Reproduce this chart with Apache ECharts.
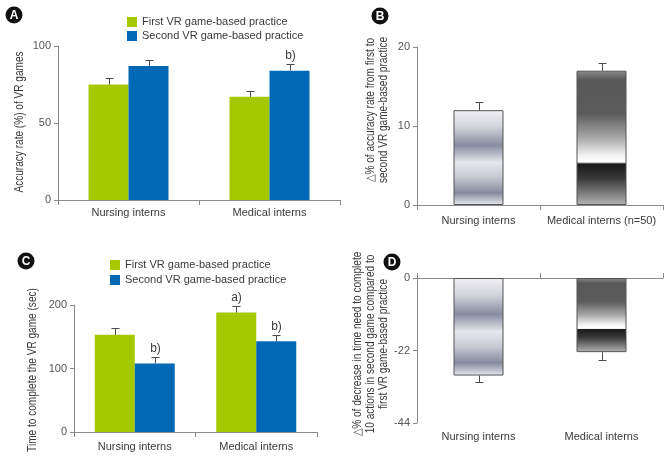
<!DOCTYPE html>
<html>
<head>
<meta charset="utf-8">
<script src="https://cdn.jsdelivr.net/npm/echarts@6/dist/echarts.min.js"></script>
<style>
html,body{margin:0;padding:0;background:#fff;}
#chart{width:672px;height:461px;}
</style>
</head>
<body>
<div id="chart"></div>
<script>
// ---- data ----
const seriesNames = ['First VR game-based practice', 'Second VR game-based practice'];

const categoriesA = ['Nursing interns', 'Medical interns'];
const accuracyFirst = [75, 67];
const accuracyFirstErr = [4, 4];
const accuracySecond = [87, 84];
const accuracySecondErr = [4, 4];
const accuracyFirstNote = ['', ''];
const accuracySecondNote = ['', 'b)'];
const ticksA = [0, 50, 100];

const categoriesB = ['Nursing interns', 'Medical interns (n=50)'];
const accuracyDelta = [12, 17];
const accuracyDeltaErr = [1, 1];
const ticksB = [0, 10, 20];

const categoriesC = ['Nursing interns', 'Medical interns'];
const timeFirst = [153, 188];
const timeFirstErr = [10, 10];
const timeSecond = [108, 143];
const timeSecondErr = [10, 10];
const timeFirstNote = ['', 'a)'];
const timeSecondNote = ['b)', 'b)'];
const ticksC = [0, 100, 200];

const categoriesD = ['Nursing interns', 'Medical interns'];
const timeDelta = [-29.6, -22.5];
const timeDeltaErr = [-1.9, -2.3];
const ticksD = [-44, -22, 0];

// ---- styles ----
const FONT = "'Liberation Sans Narrow', 'Liberation Sans', sans-serif";
const FS = 11;
const GREEN = '#a6c800';
const BLUE = '#0068b4';
const AXIS = '#8a8a8a';
const TXT = '#3a3a3a';
const ERR = '#4a4a4a';

const gradNursing = new echarts.graphic.LinearGradient(0, 0, 0, 1, [
  {offset: 0, color: '#f0f0f3'},
  {offset: 0.17, color: '#d4d6dd'},
  {offset: 0.37, color: '#868ba0'},
  {offset: 0.55, color: '#e6e7ec'},
  {offset: 0.70, color: '#c9cbd4'},
  {offset: 0.87, color: '#858a9f'},
  {offset: 1, color: '#e8e9ee'}
]);
const gradMedical = new echarts.graphic.LinearGradient(0, 0, 0, 1, [
  {offset: 0, color: '#8a8a8a'},
  {offset: 0.07, color: '#585858'},
  {offset: 0.32, color: '#5c5c5c'},
  {offset: 0.50, color: '#a8a8a8'},
  {offset: 0.63, color: '#f2f2f2'},
  {offset: 0.68, color: '#ffffff'},
  {offset: 0.695, color: '#1a1a1a'},
  {offset: 0.80, color: '#383838'},
  {offset: 1, color: '#b4b4b4'}
]);

function errData(vals, errs, k) {
  return vals.map((v, i) => [i, v, errs[i], k]);
}

function errRender(bw, nBars, notes) {
  return function (params, api) {
    const cat = api.value(0), v = api.value(1), e = api.value(2), k = api.value(3);
    const base = api.coord([cat, v]);
    const tip = api.coord([cat, v + e]);
    let x = base[0];
    if (nBars === 2) x += (k === 0 ? -bw / 2 : bw / 2);
    x = Math.round(x) + 0.5;
    const ty = Math.round(tip[1]) + 0.5;
    const children = [
      {type: 'line', shape: {x1: x, y1: base[1], x2: x, y2: ty}, style: {stroke: ERR, lineWidth: 1}},
      {type: 'line', shape: {x1: x - 4, y1: ty, x2: x + 4, y2: ty}, style: {stroke: ERR, lineWidth: 1}}
    ];
    const note = notes ? notes[k][params.dataIndex % notes[k].length] : '';
    if (note) {
      children.push({type: 'text', style: {text: note, x: x, y: ty - 3, align: 'center', verticalAlign: 'bottom',
        fontSize: 12, fontFamily: FONT, fill: TXT}});
    }
    return {type: 'group', children: children};
  };
}

function yAxis(gi, min, max, interval) {
  return {
    gridIndex: gi, type: 'value', min: min, max: max, interval: interval,
    axisLine: {show: true, lineStyle: {color: AXIS}},
    axisTick: {show: true, length: 4, lineStyle: {color: AXIS}},
    axisLabel: {fontSize: FS, color: '#555', fontFamily: FONT, margin: 7},
    splitLine: {show: false}
  };
}
function xAxis(gi, cats, margin) {
  return {
    gridIndex: gi, type: 'category', data: cats,
    axisLine: {show: true, lineStyle: {color: AXIS}},
    axisTick: {show: true, length: 5, lineStyle: {color: AXIS}},
    axisLabel: {fontSize: FS, color: TXT, fontFamily: FONT, margin: margin, interval: 0}
  };
}

const chart = echarts.init(document.getElementById('chart'), null, {renderer: 'canvas'});

function circleLabel(cx, cy, letter) {
  return {
    type: 'group', children: [
      {type: 'circle', shape: {cx: cx, cy: cy, r: 8.5}, style: {fill: '#111'}},
      {type: 'text', style: {text: letter, x: cx, y: cy + 0.5, align: 'center', verticalAlign: 'middle',
        fontSize: 12, fontWeight: 'bold', fontFamily: "'Liberation Sans', sans-serif", fill: '#fff'}}
    ]
  };
}
function vTitle(cx, cy, text) {
  return {
    type: 'text', x: cx, y: cy, rotation: Math.PI / 2, scaleX: 0.84,
    style: {text: text, align: 'center', verticalAlign: 'middle', fontSize: 12, lineHeight: 13,
      fontFamily: FONT, fill: TXT}
  };
}

const legendText = {fontSize: FS, color: TXT, lineHeight: 14, fontFamily: FONT};

const option = {
  animation: false,
  textStyle: {fontFamily: FONT},
  grid: [
    {left: 58, top: 46, width: 282, height: 154},
    {left: 417, top: 47, width: 246, height: 158},
    {left: 74, top: 305, width: 243, height: 127},
    {left: 417, top: 278, width: 246, height: 145}
  ],
  legend: [
    {left: 127, top: 15, orient: 'vertical', padding: 0, itemGap: 0, itemWidth: 10, itemHeight: 10, icon: 'rect',
      data: seriesNames, selectedMode: false, textStyle: legendText},
    {left: 110, top: 258, orient: 'vertical', padding: 0, itemGap: 1, itemWidth: 10, itemHeight: 10, icon: 'rect',
      data: seriesNames, selectedMode: false, textStyle: legendText}
  ],
  xAxis: [
    xAxis(0, categoriesA, 7),
    xAxis(1, categoriesB, 10),
    xAxis(2, categoriesC, 9),
    Object.assign(xAxis(3, categoriesD, 0), {position: 'top', axisLabel: {show: false}}),
    {gridIndex: 3, type: 'category', data: categoriesD, position: 'bottom', offset: 0,
      axisLine: {show: false}, axisTick: {show: false},
      axisLabel: {fontSize: FS, color: TXT, fontFamily: FONT, margin: 8, interval: 0}}
  ],
  yAxis: [
    yAxis(0, ticksA[0], ticksA[ticksA.length - 1], ticksA[1] - ticksA[0]),
    yAxis(1, ticksB[0], ticksB[ticksB.length - 1], ticksB[1] - ticksB[0]),
    yAxis(2, ticksC[0], ticksC[ticksC.length - 1], ticksC[1] - ticksC[0]),
    yAxis(3, ticksD[0], ticksD[ticksD.length - 1], ticksD[1] - ticksD[0])
  ],
  series: [
    {name: seriesNames[0], type: 'bar', xAxisIndex: 0, yAxisIndex: 0, data: accuracyFirst, barWidth: 40, barGap: '0%',
      itemStyle: {color: GREEN}},
    {name: seriesNames[1], type: 'bar', xAxisIndex: 0, yAxisIndex: 0, data: accuracySecond, barWidth: 40, barGap: '0%',
      itemStyle: {color: BLUE}},
    {type: 'custom', xAxisIndex: 0, yAxisIndex: 0, z: 5,
      renderItem: errRender(40, 2, [accuracyFirstNote, accuracySecondNote]),
      data: errData(accuracyFirst, accuracyFirstErr, 0).concat(errData(accuracySecond, accuracySecondErr, 1))},

    {type: 'bar', xAxisIndex: 1, yAxisIndex: 1, barWidth: 50,
      data: accuracyDelta.map((v, i) => ({value: v, itemStyle: {color: i === 0 ? gradNursing : gradMedical}})),
      itemStyle: {borderColor: '#555', borderWidth: 1}},
    {type: 'custom', xAxisIndex: 1, yAxisIndex: 1, z: 5, renderItem: errRender(50, 1, null),
      data: errData(accuracyDelta, accuracyDeltaErr, 0)},

    {name: seriesNames[0], type: 'bar', xAxisIndex: 2, yAxisIndex: 2, data: timeFirst, barWidth: 40, barGap: '0%',
      itemStyle: {color: GREEN}},
    {name: seriesNames[1], type: 'bar', xAxisIndex: 2, yAxisIndex: 2, data: timeSecond, barWidth: 40, barGap: '0%',
      itemStyle: {color: BLUE}},
    {type: 'custom', xAxisIndex: 2, yAxisIndex: 2, z: 5,
      renderItem: errRender(40, 2, [timeFirstNote, timeSecondNote]),
      data: errData(timeFirst, timeFirstErr, 0).concat(errData(timeSecond, timeSecondErr, 1))},

    {type: 'bar', xAxisIndex: 3, yAxisIndex: 3, barWidth: 50,
      data: timeDelta.map((v, i) => ({value: v, itemStyle: {color: i === 0 ? gradNursing : gradMedical}})),
      itemStyle: {borderColor: '#555', borderWidth: 1}},
    {type: 'custom', xAxisIndex: 3, yAxisIndex: 3, z: 5, renderItem: errRender(50, 1, null),
      data: errData(timeDelta, timeDeltaErr, 0)}
  ],
  graphic: [
    circleLabel(14, 15, 'A'),
    circleLabel(380, 16, 'B'),
    circleLabel(26, 261, 'C'),
    circleLabel(392, 262, 'D'),
    vTitle(20, 122, 'Accuracy rate (%) of VR games'),
    vTitle(377, 110, '△% of accuracy rate from first to\nsecond VR game-based practice'),
    vTitle(33, 370, 'Time to complete the VR game (sec)'),
    vTitle(371, 344, '△% of decrease in time need to complete\n10 actions in second game compared to\nfirst VR game-based practice')
  ]
};
chart.setOption(option);
</script>
</body>
</html>
